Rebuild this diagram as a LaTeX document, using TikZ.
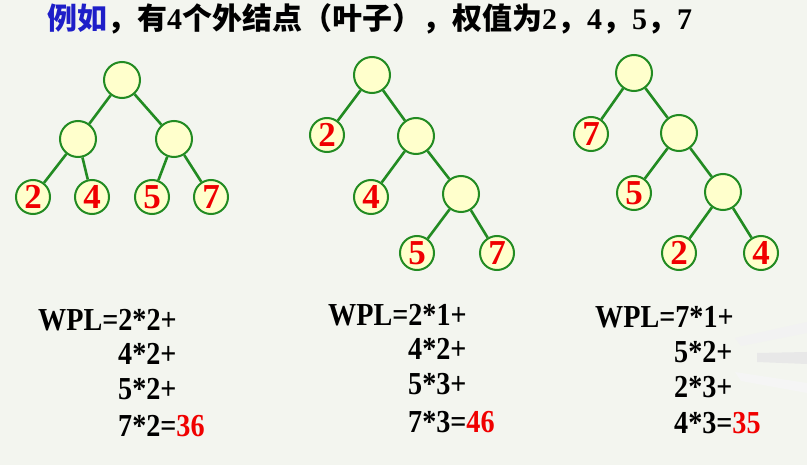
\documentclass[tikz,border=0pt]{standalone}
\usepackage{fontspec}
\setmainfont{Liberation Serif}
\newfontfamily\cjk{Noto Sans CJK SC}
\newfontfamily\wplfont[FakeStretch=0.88]{Liberation Serif}
\newcommand{\nm}[1]{{\rmfamily\bfseries #1}}
\definecolor{bgcol}{RGB}{243,245,239}
\definecolor{edgegreen}{RGB}{34,139,34}
\definecolor{nodefill}{RGB}{255,255,204}
\definecolor{numred}{RGB}{240,0,0}
\definecolor{titleblue}{RGB}{30,30,200}

\begin{document}
\begin{tikzpicture}[x=1pt, y=-1pt,
    inner/.style = {draw=edgegreen, line width=2pt, circle, fill=nodefill, minimum size=36pt, inner sep=0pt},
    leaf/.style = {inner, minimum size=34pt, text=numred, font=\fontsize{35}{35}\selectfont\bfseries},
    edge/.style = {draw=edgegreen, line width=2.6pt},
    wpl/.style = {anchor=base west, inner sep=0pt, font=\wplfont\fontsize{32}{32}\selectfont\bfseries}]
    \fill[bgcol] (0,0) rectangle (807,465);
    % books in the corner
    \fill[black!5] (735,338) -- (807,322) -- (807,333) -- (741,346) -- cycle;
    \fill[black!9] (757,353) -- (807,352) -- (807,364) -- (757,362) -- cycle;
    \fill[black!4] (735,372) -- (807,383) -- (807,393) -- (741,381) -- cycle;

    \node[anchor=base west, inner sep=0pt, font=\cjk\fontsize{30}{30}\selectfont\bfseries] (title) at (47,30)
        {\textcolor{titleblue}{例如}，有\nm{4}个外结点（叶子），权值为\nm{2}，\nm{4}，\nm{5}，\nm{7}};

    % tree 1
    \node[inner] (r1) at (122,80) {};
    \node[inner] (a1) at (78,139) {};
    \node[inner] (b1) at (174,139) {};
    \node[leaf] (l12) at (33,197) {2};
    \node[leaf] (l14) at (92,197) {4};
    \node[leaf] (l15) at (152,197) {5};
    \node[leaf] (l17) at (211,197) {7};
    \draw[edge] (r1) -- (a1);
    \draw[edge] (r1) -- (b1);
    \draw[edge] (a1) -- (l12);
    \draw[edge] (a1) -- (l14);
    \draw[edge] (b1) -- (l15);
    \draw[edge] (b1) -- (l17);

    % tree 2
    \node[inner] (r2) at (372,75) {};
    \node[leaf] (l22) at (327,135) {2};
    \node[inner] (a2) at (416,136) {};
    \node[leaf] (l24) at (371,197) {4};
    \node[inner] (b2) at (461,194) {};
    \node[leaf] (l25) at (417,253) {5};
    \node[leaf] (l27) at (497,253) {7};
    \draw[edge] (r2) -- (l22);
    \draw[edge] (r2) -- (a2);
    \draw[edge] (a2) -- (l24);
    \draw[edge] (a2) -- (b2);
    \draw[edge] (b2) -- (l25);
    \draw[edge] (b2) -- (l27);

    % tree 3
    \node[inner] (r3) at (634,73) {};
    \node[leaf] (l37) at (591,134) {7};
    \node[inner] (a3) at (679,133) {};
    \node[leaf] (l35) at (634,193) {5};
    \node[inner] (b3) at (723,192) {};
    \node[leaf] (l32) at (679,253) {2};
    \node[leaf] (l34) at (761,253) {4};
    \draw[edge] (r3) -- (l37);
    \draw[edge] (r3) -- (a3);
    \draw[edge] (a3) -- (l35);
    \draw[edge] (a3) -- (b3);
    \draw[edge] (b3) -- (l32);
    \draw[edge] (b3) -- (l34);

    % sums
    \node[wpl] (w1a) at (38,331) {WPL=2*2+};
    \node[wpl] (w1b) at (118,365) {4*2+};
    \node[wpl] (w1c) at (118,400) {5*2+};
    \node[wpl] (w1d) at (118,437) {7*2=\textcolor{numred}{36}};
    \node[wpl] (w2a) at (328,326) {WPL=2*1+};
    \node[wpl] (w2b) at (408,360) {4*2+};
    \node[wpl] (w2c) at (408,395) {5*3+};
    \node[wpl] (w2d) at (408,432) {7*3=\textcolor{numred}{46}};
    \node[wpl] (w3a) at (595,328) {WPL=7*1+};
    \node[wpl] (w3b) at (674,363) {5*2+};
    \node[wpl] (w3c) at (674,398) {2*3+};
    \node[wpl] (w3d) at (674,433) {4*3=\textcolor{numred}{35}};
\end{tikzpicture}
\end{document}
